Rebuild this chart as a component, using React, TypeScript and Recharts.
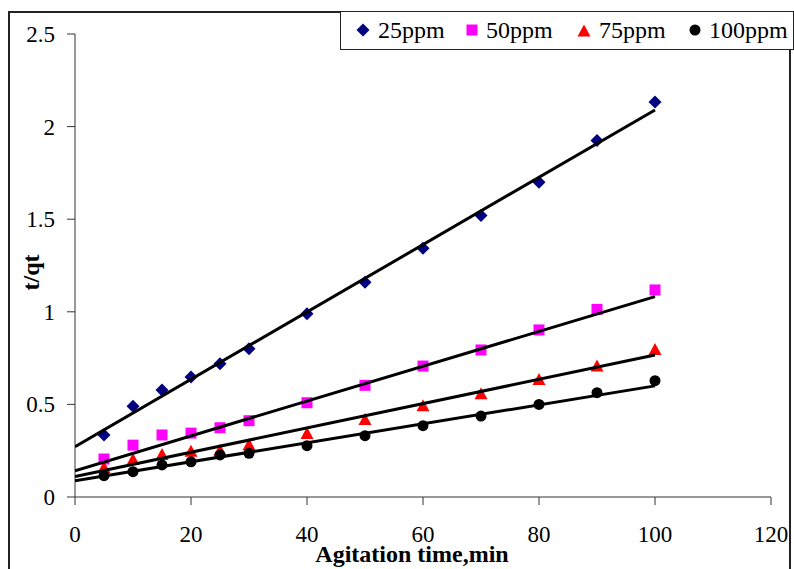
import React from "react";
import { ScatterChart, Scatter, XAxis, YAxis, Label } from "recharts";

const times = [5, 10, 15, 20, 25, 30, 40, 50, 60, 70, 80, 90, 100];

const ppm25 = [0.335, 0.49, 0.578, 0.648, 0.72, 0.8, 0.99, 1.16, 1.343, 1.52, 1.7, 1.925, 2.133];
const ppm50 = [0.205, 0.28, 0.335, 0.345, 0.374, 0.412, 0.509, 0.603, 0.707, 0.794, 0.902, 1.013, 1.118];
const ppm75 = [0.157, 0.2, 0.227, 0.245, 0.25, 0.28, 0.34, 0.416, 0.49, 0.555, 0.632, 0.704, 0.794];
const ppm100 = [0.115, 0.137, 0.173, 0.19, 0.227, 0.236, 0.277, 0.331, 0.385, 0.437, 0.5, 0.563, 0.628];

// linear trendline end points (t = 0 and t = 100)
const fit25 = [0.272, 2.09];
const fit50 = [0.142, 1.082];
const fit75 = [0.11, 0.767];
const fit100 = [0.088, 0.6];
const fitX = [0, 100];

const xTicks = [0, 20, 40, 60, 80, 100, 120];
const yTicks = [0, 0.5, 1, 1.5, 2, 2.5];

const toPoints = (ys: number[], xs: number[] = times) => xs.map((x, i) => ({ x, y: ys[i] }));

const FONT = "Liberation Serif, Times New Roman, serif";

const Diamond = ({ cx, cy }: any) => (
  <path d={`M${cx},${cy - 6.5}L${cx + 6.5},${cy}L${cx},${cy + 6.5}L${cx - 6.5},${cy}Z`} fill="#000080" />
);
const Square = ({ cx, cy }: any) => <rect x={cx - 5.5} y={cy - 5.5} width={11} height={11} fill="#FF00FF" />;
const Triangle = ({ cx, cy }: any) => (
  <path d={`M${cx},${cy - 7}L${cx + 6.5},${cy + 5}L${cx - 6.5},${cy + 5}Z`} fill="#FF0000" />
);
const Dot = ({ cx, cy }: any) => <circle cx={cx} cy={cy} r={5.5} fill="#000000" />;
const NoShape = () => <g />;

const legendItems = [
  { label: "25ppm", left: 355, icon: <svg width="14" height="14"><path d="M7,0.5L13.5,7L7,13.5L0.5,7Z" fill="#000080" /></svg> },
  { label: "50ppm", left: 465, icon: <svg width="12" height="12"><rect x="0.5" y="0.5" width="11" height="11" fill="#FF00FF" /></svg> },
  { label: "75ppm", left: 576, icon: <svg width="14" height="13"><path d="M7,0.5L13.5,12.5L0.5,12.5Z" fill="#FF0000" /></svg> },
  { label: "100ppm", left: 688, icon: <svg width="12" height="12"><circle cx="6" cy="6" r="5.5" fill="#000" /></svg> },
];

const fitLine = { stroke: "#000", strokeWidth: 3 };
const labelStyle = { fontSize: 23, fontFamily: FONT, fill: "#000" };
const titleStyle = { fontSize: 24, fontWeight: "bold" as const, fontFamily: FONT, fill: "#000" };

const XTick = ({ x, y, payload }: any) => (
  <text x={x} y={y} dy={17} textAnchor="middle" style={labelStyle}>
    {payload.value}
  </text>
);

const YTick = ({ x, y, payload }: any) => (
  <text x={x} y={y} dy={8} textAnchor="end" style={labelStyle}>
    {payload.value}
  </text>
);

const XTitle = ({ viewBox }: any) => (
  <text x={viewBox.x + viewBox.width / 2 - 11} y={562} textAnchor="middle" style={titleStyle}>
    Agitation time,min
  </text>
);

const YTitle = ({ viewBox }: any) => {
  const cx = 39;
  const cy = viewBox.y + viewBox.height / 2 + 7;
  return (
    <text x={cx} y={cy} textAnchor="middle" transform={`rotate(-90 ${cx} ${cy})`} style={titleStyle}>
      t/qt
    </text>
  );
};

export default function App() {
  return (
    <div
      style={{
        position: "absolute",
        left: 0,
        top: 0,
        width: 794,
        height: 569,
        overflow: "hidden",
        background: "#fff",
        fontFamily: FONT,
      }}
    >
      <div
        style={{
          position: "absolute",
          left: 8,
          top: 11,
          width: 783,
          height: 600,
          border: "2px solid #222",
          boxSizing: "border-box",
        }}
      />
      <ScatterChart
        width={794}
        height={569}
        margin={{ top: 34, right: 23, left: 0, bottom: 0 }}
        style={{ position: "absolute", left: 0, top: 0 }}
      >
        <XAxis
          type="number"
          dataKey="x"
          domain={[0, 120]}
          ticks={xTicks}
          height={72}
          tickSize={8}
          tickMargin={20}
          stroke="#333"
          tick={XTick}
          allowDataOverflow
        >
          <Label content={XTitle} />
        </XAxis>
        <YAxis
          type="number"
          dataKey="y"
          domain={[0, 2.5]}
          ticks={yTicks}
          width={75}
          tickSize={8}
          tickMargin={12}
          stroke="#333"
          tick={YTick}
          allowDataOverflow
        >
          <Label content={YTitle} />
        </YAxis>
        <Scatter data={toPoints(ppm25)} shape={Diamond} isAnimationActive={false} />
        <Scatter data={toPoints(ppm50)} shape={Square} isAnimationActive={false} />
        <Scatter data={toPoints(ppm75)} shape={Triangle} isAnimationActive={false} />
        <Scatter data={toPoints(ppm100)} shape={Dot} isAnimationActive={false} />
        <Scatter data={toPoints(fit25, fitX)} line={fitLine} shape={NoShape} isAnimationActive={false} />
        <Scatter data={toPoints(fit50, fitX)} line={fitLine} shape={NoShape} isAnimationActive={false} />
        <Scatter data={toPoints(fit75, fitX)} line={fitLine} shape={NoShape} isAnimationActive={false} />
        <Scatter data={toPoints(fit100, fitX)} line={fitLine} shape={NoShape} isAnimationActive={false} />
      </ScatterChart>
      <div
        style={{
          position: "absolute",
          left: 340,
          top: 11,
          width: 454,
          height: 39,
          border: "1.5px solid #222",
          boxSizing: "border-box",
          background: "#fff",
          fontFamily: FONT,
          fontSize: 24,
          color: "#000",
        }}
      >
        {legendItems.map((it) => (
          <div
            key={it.label}
            style={{
              position: "absolute",
              left: it.left - 340,
              top: 0,
              height: 36,
              display: "flex",
              alignItems: "center",
              gap: 8,
              whiteSpace: "nowrap",
            }}
          >
            {it.icon}
            <span>{it.label}</span>
          </div>
        ))}
      </div>
    </div>
  );
}
